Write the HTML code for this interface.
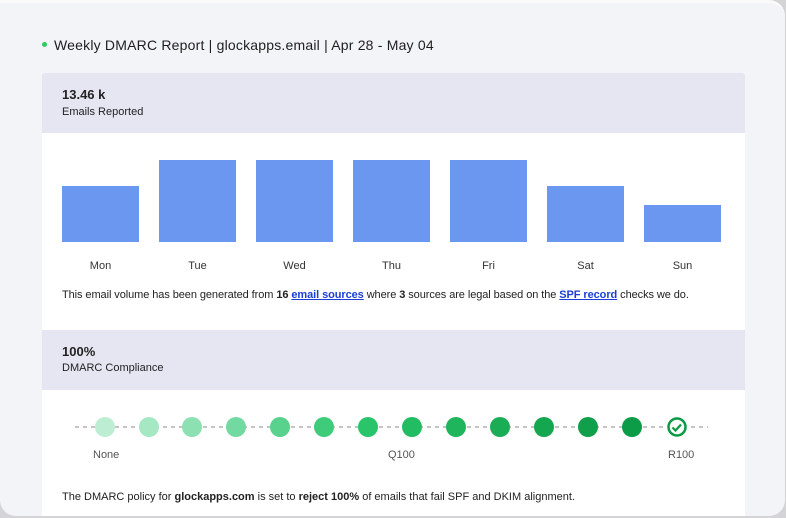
<!DOCTYPE html>
<html><head><meta charset="utf-8"><style>
*{margin:0;padding:0;box-sizing:border-box}
body{width:786px;height:518px;background:#d4d4d6;position:relative;overflow:hidden;font-family:"Liberation Sans",sans-serif;color:#222}
.card{position:absolute;left:0;top:0;width:785px;height:516px;background:#f3f4f8;border-radius:0 16px 16px 16px;border-top:3px solid #fafafa}
.t{position:absolute;white-space:nowrap}
.hdr{position:absolute;left:42px;width:703px;height:60px;background:#e6e6f3;border-radius:3px 3px 0 0}
.wh{position:absolute;left:42px;width:703px;background:#fff}
.bar{position:absolute;width:77px;background:#6b97f0}
.day{position:absolute;top:260px;width:77px;text-align:center;font-size:11px;color:#333}
a{color:#1a3fd6;font-weight:bold;text-decoration:underline}
</style></head><body>
<div class="card"></div>
<div class="t" style="left:42px;top:42px;width:5px;height:5px;border-radius:50%;background:#2ecc5f"></div>
<div class="t" style="left:54px;top:37px;font-size:14px;letter-spacing:0.2px;color:#1e1e1e">Weekly DMARC Report | glockapps.email | Apr 28 - May 04</div>
<div class="hdr" style="top:73px"></div>
<div class="t" style="left:62px;top:87px;font-size:13px;font-weight:bold">13.46 k</div>
<div class="t" style="left:62px;top:106px;font-size:11px">Emails Reported</div>
<div class="wh" style="top:133px;height:197px"></div>
<div class="bar" style="left:62px;top:186px;height:56px"></div>
<div class="bar" style="left:159px;top:160px;height:82px"></div>
<div class="bar" style="left:256px;top:160px;height:82px"></div>
<div class="bar" style="left:353px;top:160px;height:82px"></div>
<div class="bar" style="left:450px;top:160px;height:82px"></div>
<div class="bar" style="left:547px;top:186px;height:56px"></div>
<div class="bar" style="left:644px;top:205px;height:37px"></div>
<div class="day" style="left:62px">Mon</div><div class="day" style="left:159px">Tue</div><div class="day" style="left:256px">Wed</div><div class="day" style="left:353px">Thu</div><div class="day" style="left:450px">Fri</div><div class="day" style="left:547px">Sat</div><div class="day" style="left:644px">Sun</div>
<div class="t" style="left:62px;top:289px;font-size:11px;letter-spacing:-0.08px">This email volume has been generated from <b>16</b> <a>email sources</a> where <b>3</b> sources are legal based on the <a>SPF record</a> checks we do.</div>
<div class="hdr" style="top:330px;border-radius:0"></div>
<div class="t" style="left:62px;top:344px;font-size:13px;font-weight:bold">100%</div>
<div class="t" style="left:62px;top:362px;font-size:11px">DMARC Compliance</div>
<div class="wh" style="top:390px;height:126px"></div>
<svg class="t" style="left:0;top:0" width="786" height="518">
<line x1="75" y1="427" x2="708" y2="427" stroke="#c4c4c4" stroke-width="2" stroke-dasharray="4,4"/>
<circle cx="105" cy="427" r="10" fill="#bdeed3"/>
<circle cx="149" cy="427" r="10" fill="#a6e8c4"/>
<circle cx="192" cy="427" r="10" fill="#8de0b2"/>
<circle cx="236" cy="427" r="10" fill="#72d9a0"/>
<circle cx="280" cy="427" r="10" fill="#58d28c"/>
<circle cx="324" cy="427" r="10" fill="#3fcc7a"/>
<circle cx="368" cy="427" r="10" fill="#2ac56a"/>
<circle cx="412" cy="427" r="10" fill="#22bc62"/>
<circle cx="456" cy="427" r="10" fill="#1fb55c"/>
<circle cx="500" cy="427" r="10" fill="#1aad56"/>
<circle cx="544" cy="427" r="10" fill="#15a650"/>
<circle cx="588" cy="427" r="10" fill="#10a04b"/>
<circle cx="632" cy="427" r="10" fill="#0c9b47"/>
<circle cx="677" cy="427" r="11" fill="#fff"/>
<circle cx="677" cy="427" r="8.5" fill="none" stroke="#0a9a45" stroke-width="2.5"/>
<path d="M672.5 427.5l3 3 5.5-6" fill="none" stroke="#0a9a45" stroke-width="2.2"/>
</svg>
<div class="t" style="left:93px;top:449px;font-size:11px;color:#555">None</div>
<div class="t" style="left:388px;top:449px;font-size:11px;color:#555">Q100</div>
<div class="t" style="left:668px;top:449px;font-size:11px;color:#555">R100</div>
<div class="t" style="left:62px;top:491px;font-size:11px">The DMARC policy for <b>glockapps.com</b> is set to <b>reject 100%</b> of emails that fail SPF and DKIM alignment.</div>
</body></html>
